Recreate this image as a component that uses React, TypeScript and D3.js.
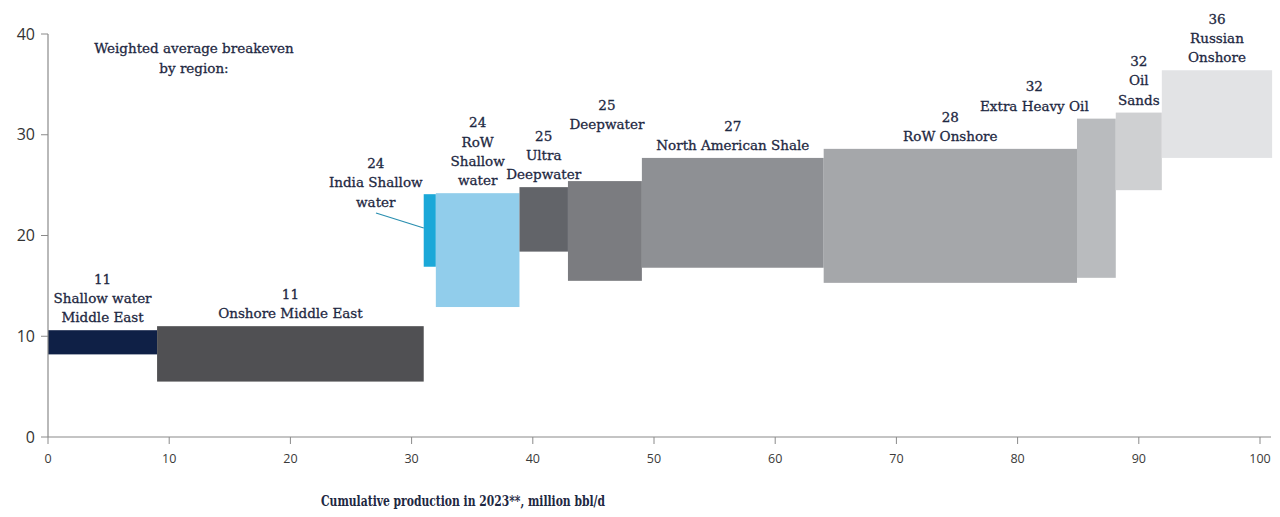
import React from "react";
import * as d3 from "d3";

// ---- Data ----
const regions = [
  "Shallow water Middle East",
  "Onshore Middle East",
  "India Shallow water",
  "RoW Shallow water",
  "Ultra Deepwater",
  "Deepwater",
  "North American Shale",
  "RoW Onshore",
  "Extra Heavy Oil",
  "Oil Sands",
  "Russian Onshore",
];
// production (million bbl/d) per region -> bar widths
const production = [9.0, 22.0, 1.0, 6.9, 4.0, 6.1, 15.0, 20.9, 3.2, 3.8, 9.1];
// breakeven range ($/bbl): low and high of each floating bar
const lowValues = [8.2, 5.5, 16.9, 12.9, 18.4, 15.5, 16.8, 15.3, 15.8, 24.5, 27.7];
const highValues = [10.6, 11.0, 24.1, 24.2, 24.8, 25.4, 27.7, 28.6, 31.6, 32.2, 36.4];
// weighted average breakeven shown in labels
const averages = [11, 11, 24, 24, 25, 25, 27, 28, 32, 32, 36];
// label lines
const labelLines = [
  ["Shallow water", "Middle East"],
  ["Onshore Middle East"],
  ["India Shallow", "water"],
  ["RoW", "Shallow", "water"],
  ["Ultra", "Deepwater"],
  ["Deepwater"],
  ["North American Shale"],
  ["RoW Onshore"],
  ["Extra Heavy Oil"],
  ["Oil", "Sands"],
  ["Russian", "Onshore"],
];
const colors = [
  "#0f2046",
  "#505053",
  "#1ba8d8",
  "#91cdeb",
  "#626469",
  "#7b7c80",
  "#8e9094",
  "#a5a7aa",
  "#b9bbbe",
  "#cfd0d2",
  "#e2e3e5",
];
const xTicks = [0, 10, 20, 30, 40, 50, 60, 70, 80, 90, 100];
const yTicks = [0, 10, 20, 30, 40];

// label layout tweaks (pixels): horizontal shift and extra lift
const labelDx = [0, 0, -54, 0, 0, 2, 0, 0, -62, 0, 0];
const labelLift = [0, 0, 0, 0, 0, 44, 0, 0, 0, 0, 0];

const W = 1280;
const H = 517;
const LABEL_FONT = "'DejaVu Serif', serif";
const TITLE_FONT = "'DejaVu Serif Condensed', 'DejaVu Serif', serif";
const TEXT_COLOR = "#1e2842";

export default function App() {
  const x = d3.scaleLinear().domain([0, 100]).range([48, 1260]);
  const y = d3.scaleLinear().domain([0, 40]).range([437, 34]);

  const starts = d3.cumsum([0, ...production]);
  const bars = regions.map((name, i) => ({
    name,
    x0: starts[i],
    x1: starts[i] + production[i],
    lo: lowValues[i],
    hi: highValues[i],
    avg: averages[i],
    lines: [String(averages[i]), ...labelLines[i]],
    color: colors[i],
    dx: labelDx[i],
    lift: labelLift[i],
  }));

  const lineH = 19.3;
  const indiaIdx = 2;
  const india = bars[indiaIdx];

  const labelStyle = {
    fontFamily: LABEL_FONT,
    fontSize: 13.5,
    fill: TEXT_COLOR,
    stroke: TEXT_COLOR,
    strokeWidth: 0.3,
  } as const;

  return (
    <svg
      width={W}
      height={H}
      style={{ position: "absolute", left: 0, top: 0, background: "#fff" }}
    >
      {/* bars */}
      {bars.map((b) => (
        <rect
          key={b.name}
          x={x(b.x0)}
          y={y(b.hi)}
          width={x(b.x1) - x(b.x0)}
          height={y(b.lo) - y(b.hi)}
          fill={b.color}
        />
      ))}

      {/* axes */}
      <line x1={48} x2={48} y1={y(40)} y2={y(0)} stroke="#8a8a8a" strokeWidth={1.2} />
      <line x1={48} x2={1271} y1={y(0)} y2={y(0)} stroke="#8a8a8a" strokeWidth={1.2} />
      {yTicks.map((t) => (
        <g key={"y" + t}>
          <line x1={41} x2={48} y1={y(t)} y2={y(t)} stroke="#8a8a8a" strokeWidth={1} />
          <text
            x={35}
            y={y(t)}
            dy="0.35em"
            textAnchor="end"
            fontFamily="'Open Sans', sans-serif"
            fontSize={16}
            fill="#333"
          >
            {t}
          </text>
        </g>
      ))}
      {xTicks.map((t) => (
        <g key={"x" + t}>
          <line x1={x(t)} x2={x(t)} y1={y(0)} y2={y(0) + 7} stroke="#8a8a8a" strokeWidth={1} />
          <text
            x={x(t)}
            y={y(0) + 26}
            textAnchor="middle"
            fontFamily="'Open Sans', sans-serif"
            fontSize={12.5}
            fill="#3a3a3a"
          >
            {t}
          </text>
        </g>
      ))}

      {/* axis title */}
      <text
        x={463}
        y={506}
        textAnchor="middle"
        fontFamily={TITLE_FONT}
        fontWeight="bold"
        fontSize={15}
        fill={TEXT_COLOR}
        textLength={284}
        lengthAdjust="spacingAndGlyphs"
      >
        Cumulative production in 2023**, million bbl/d
      </text>

      {/* header note */}
      <text textAnchor="middle" {...labelStyle}>
        <tspan x={194} y={53}>Weighted average breakeven</tspan>
        <tspan x={194} y={73}>by region:</tspan>
      </text>

      {/* bar labels */}
      {bars.map((b) => {
        const cx = (x(b.x0) + x(b.x1)) / 2 + b.dx;
        const bottom = b.name === india.name ? 206.5 : y(b.hi) - 8 - b.lift;
        const n = b.lines.length;
        return (
          <text key={"l" + b.name} textAnchor="middle" {...labelStyle}>
            {b.lines.map((ln, j) => (
              <tspan key={j} x={cx} y={bottom - (n - 1 - j) * lineH}>
                {ln}
              </tspan>
            ))}
          </text>
        );
      })}

      {/* leader line for India */}
      <line
        x1={376}
        y1={213}
        x2={x(india.x0)}
        y2={228}
        stroke="#2a8fb0"
        strokeWidth={1.3}
      />
    </svg>
  );
}
